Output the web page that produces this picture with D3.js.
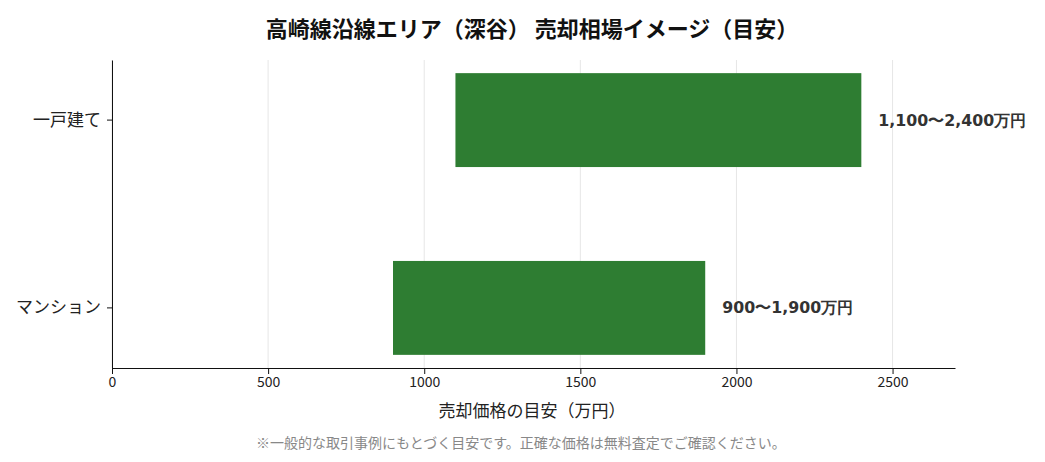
<!DOCTYPE html>
<html><head><meta charset="utf-8">
<script src="https://cdn.jsdelivr.net/npm/d3@7"></script>
<style>body{margin:0;background:#fff;}svg{display:block;font-family:"Noto Sans CJK JP","DejaVu Sans",sans-serif;}</style>
</head><body>
<svg id="c" width="1045" height="462"></svg>
<script>
const categories = ["一戸建て", "マンション"];
const minValues = [1100, 900];
const maxValues = [2400, 1900];
const valueLabels = ["1,100〜2,400万円", "900〜1,900万円"];
const xTicks = [0, 500, 1000, 1500, 2000, 2500];
const title = "高崎線沿線エリア（深谷） 売却相場イメージ（目安）";
const xTitle = "売却価格の目安（万円）";
const note = "※一般的な取引事例にもとづく目安です。正確な価格は無料査定でご確認ください。";

const svg = d3.select("#c");
const m = {l:112, r:955, t:60, b:368};
const x = d3.scaleLinear().domain([0, 2700]).range([m.l, m.r]);
const y = d3.scaleBand().domain(categories).range([m.t, m.b]).paddingInner(0.5).paddingOuter(0.07);

svg.append("g").selectAll("line").data(xTicks).join("line")
  .attr("x1", d=>x(d)).attr("x2", d=>x(d)).attr("y1", m.t).attr("y2", m.b)
  .attr("stroke", "#e6e6e6").attr("stroke-width", 1);

svg.append("g").selectAll("rect").data(categories).join("rect")
  .attr("x", (d,i)=>x(minValues[i])).attr("width", (d,i)=>x(maxValues[i])-x(minValues[i]))
  .attr("y", d=>y(d)).attr("height", y.bandwidth()).attr("fill", "#2e7d32");

svg.append("g").selectAll("text").data(categories).join("text")
  .attr("x", (d,i)=>x(maxValues[i])+17).attr("y", d=>y(d)+y.bandwidth()/2)
  .attr("dominant-baseline","central").attr("font-family","DejaVu Sans, sans-serif")
  .attr("font-weight","bold").attr("font-size",15.8).attr("fill","#333")
  .text((d,i)=>valueLabels[i]);

const xa = svg.append("g").attr("transform",`translate(0,${m.b})`)
  .call(d3.axisBottom(x).tickValues(xTicks).tickFormat(d3.format("d")).tickSize(6).tickSizeOuter(0));
xa.selectAll("text").attr("font-size",14).attr("fill","#222").attr("font-family","Noto Sans CJK JP, sans-serif");
xa.select(".domain").attr("stroke","#111");
xa.selectAll(".tick line").attr("stroke","#111");

const ya = svg.append("g").attr("transform",`translate(${m.l},0)`)
  .call(d3.axisLeft(y).tickSize(5).tickSizeOuter(0).tickPadding(6));
ya.selectAll("text").attr("font-size",17).attr("fill","#222").attr("font-family","Noto Sans CJK JP, sans-serif");
ya.select(".domain").attr("stroke","#111");
ya.selectAll(".tick line").attr("stroke","#111");

svg.append("text").attr("x",532).attr("y",27).attr("text-anchor","middle").attr("dominant-baseline","central")
  .attr("font-size",22).attr("font-weight","bold").attr("fill","#111").text(title);
svg.append("text").attr("x",532).attr("y",409).attr("text-anchor","middle").attr("dominant-baseline","central")
  .attr("font-size",17).attr("fill","#222").text(xTitle);
svg.append("text").attr("x",521).attr("y",442).attr("text-anchor","middle").attr("dominant-baseline","central")
  .attr("font-size",14).attr("fill","#888").text(note);
</script>
</body></html>
